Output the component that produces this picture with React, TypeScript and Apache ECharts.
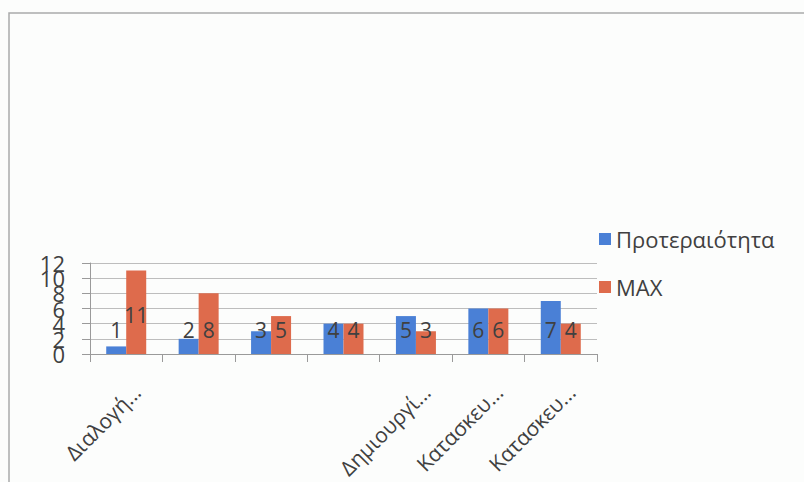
import React, { useEffect, useRef } from "react";
import * as echarts from "echarts";

const categories = ["Διαλογή...", "", "", "", "Δημιουργί...", "Κατασκευ...", "Κατασκευ..."];
const priorityValues = [1, 2, 3, 4, 5, 6, 7];
const maxValues = [11, 8, 5, 4, 3, 6, 4];
const seriesNames = ["Προτεραιότητα", "MAX"];
const yMin = 0;
const yMax = 12;
const yInterval = 2;
// tick labels split over two stacked label rows so none of them is dropped
const yLabelsA = [0, 4, 8, 12];
const yLabelsB = [2, 6, 10];

const FONT = "'Open Sans', 'Noto Sans', sans-serif";
const TEXT = "#404040";
const BLUE = "#4A80D6";
const RED = "#DE6B4C";

export default function App() {
  const ref = useRef<HTMLDivElement>(null);
  useEffect(() => {
    document.body.style.margin = "0";
    const chart = echarts.init(ref.current!, null, { renderer: "svg" });
    const labelBase = {
      show: true,
      position: "insideBottom",
      distance: 14,
      color: TEXT,
      fontFamily: FONT,
      fontSize: 21,
    };
    const yLabelStyle = {
      margin: 25,
      color: TEXT,
      fontFamily: FONT,
      fontSize: 22,
    };
    chart.setOption({
      animation: false,
      backgroundColor: "#fcfdfc",
      graphic: [
        {
          type: "rect",
          shape: { x: 9, y: 13, width: 820, height: 500 },
          style: { fill: "none", stroke: "#a9abab", lineWidth: 1.5 },
          silent: true,
        },
      ],
      grid: { left: 90, right: 207, top: 263, bottom: 128, containLabel: false },
      legend: {
        orient: "vertical",
        left: 594,
        top: 222,
        icon: "rect",
        itemWidth: 12,
        itemHeight: 12,
        itemGap: 24,
        textStyle: { color: TEXT, fontFamily: FONT, fontSize: 22, lineHeight: 24 },
        data: seriesNames,
      },
      xAxis: {
        type: "category",
        data: categories,
        axisLine: { lineStyle: { color: "#9a9a9a" } },
        axisTick: { show: true, alignWithLabel: false, length: 8, lineStyle: { color: "#9a9a9a" } },
        axisLabel: {
          interval: 0,
          rotate: 45,
          margin: 45,
          padding: [0, -15, 0, 0],
          color: TEXT,
          fontFamily: FONT,
          fontSize: 21,
        },
      },
      yAxis: [
        {
          type: "value",
          min: yMin,
          max: yMax,
          interval: yInterval,
          position: "left",
          axisLine: { show: true, lineStyle: { color: "#9a9a9a" } },
          axisTick: { show: true, inside: false, length: 8, lineStyle: { color: "#9a9a9a" } },
          splitLine: { lineStyle: { color: "#bdbdbd" } },
          axisLabel: {
            ...yLabelStyle,
            showMinLabel: true,
            showMaxLabel: true,
            formatter: (v: number) => (yLabelsA.includes(v) ? String(v) : ""),
          },
        },
        {
          type: "value",
          min: yMin,
          max: yMax,
          interval: yInterval,
          position: "left",
          offset: 0,
          axisLine: { show: false },
          axisTick: { show: false },
          splitLine: { show: false },
          axisLabel: {
            ...yLabelStyle,
            showMinLabel: false,
            showMaxLabel: false,
            formatter: (v: number) => (yLabelsB.includes(v) ? String(v) : ""),
          },
        },
      ],
      series: [
        {
          name: seriesNames[0],
          type: "bar",
          data: priorityValues,
          itemStyle: { color: BLUE },
          barWidth: 20,
          barGap: "0%",
          label: labelBase,
        },
        {
          name: seriesNames[1],
          type: "bar",
          data: maxValues.map((v, i) =>
            i === 0 ? { value: v, label: { distance: 29 } } : v
          ),
          itemStyle: { color: RED },
          barWidth: 20,
          barGap: "0%",
          label: labelBase,
        },
      ],
    });
    return () => chart.dispose();
  }, []);
  return <div ref={ref} style={{ width: 804, height: 482 }} />;
}
